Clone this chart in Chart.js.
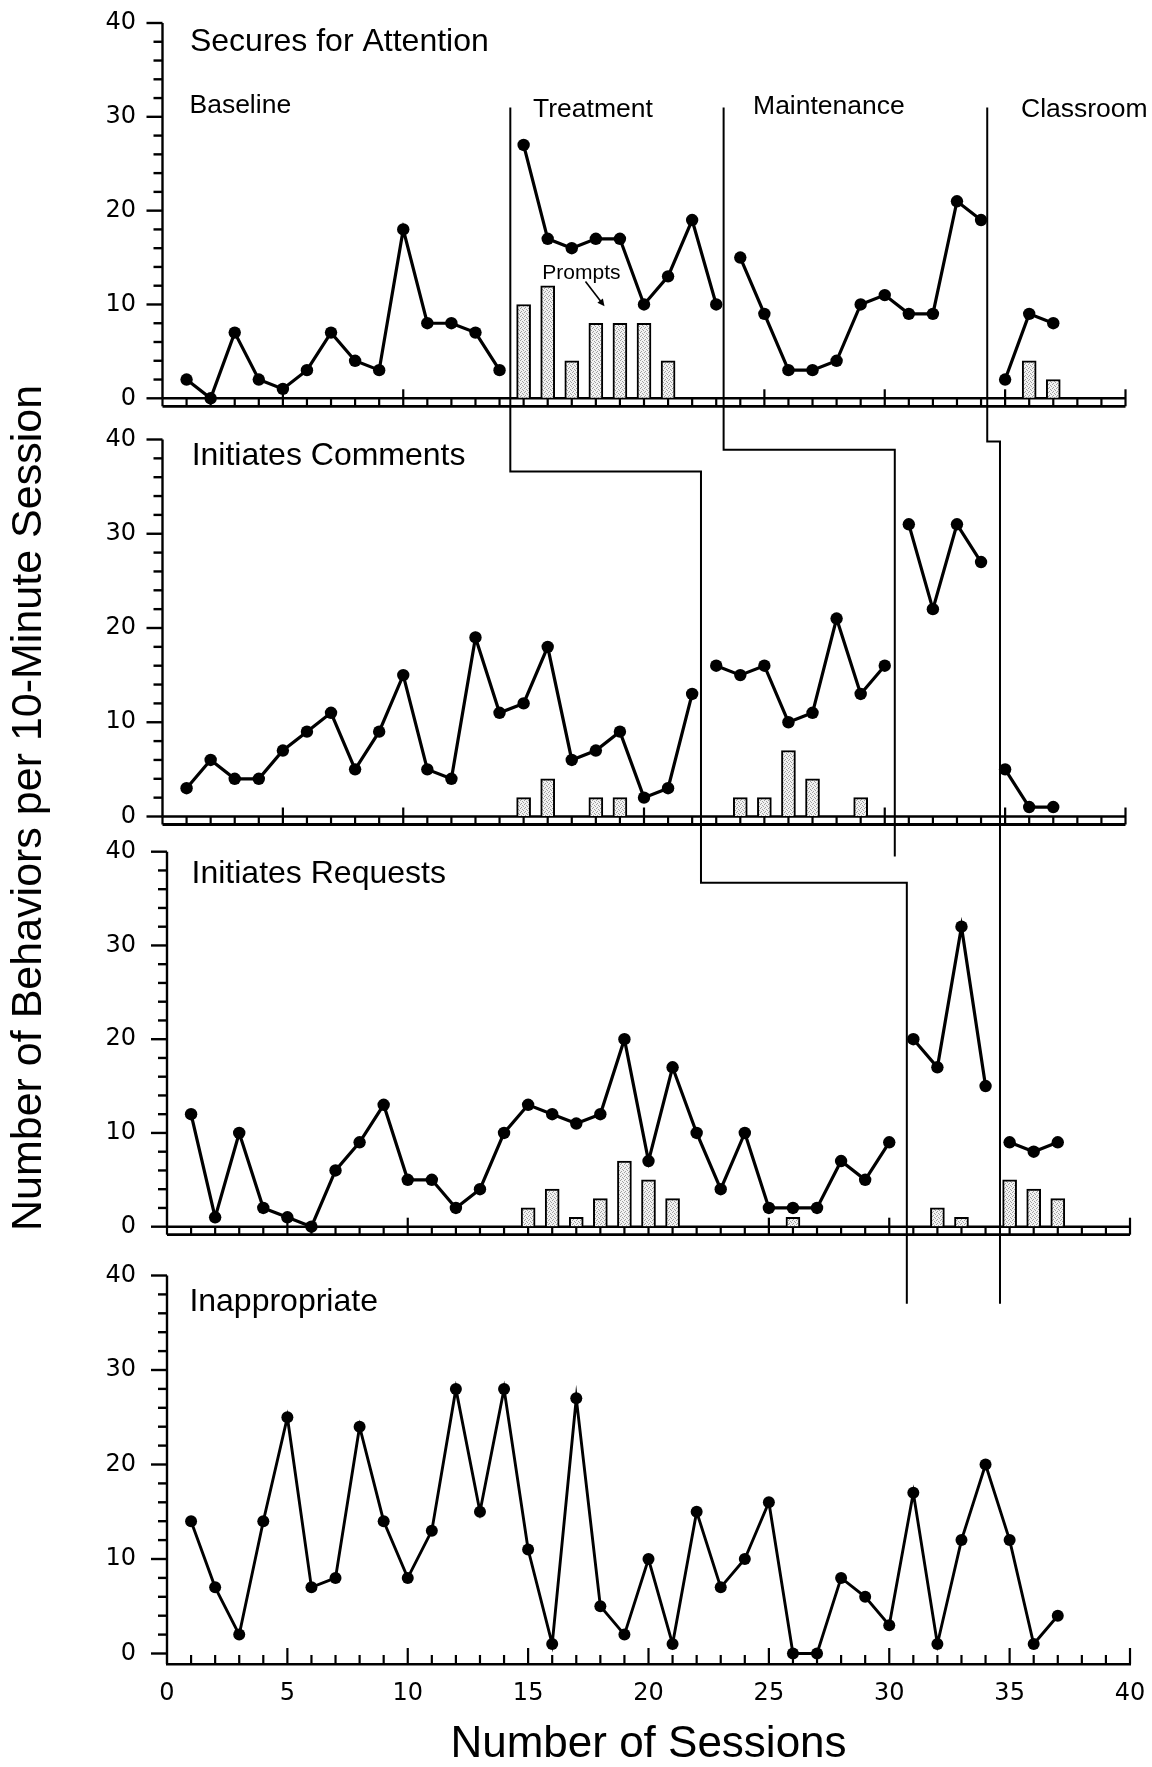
<!DOCTYPE html>
<html>
<head>
<meta charset="utf-8">
<title>Behaviors per session</title>
<script src="https://cdn.jsdelivr.net/npm/chart.js@4.4.1/dist/chart.umd.min.js"></script>
<style>
  html, body { margin: 0; padding: 0; background: #fff; }
  #chart { display: block; width: 1152px; height: 1767px; }
</style>
</head>
<body>
<canvas id="chart" width="1152" height="1767"></canvas>
<script>
// session numbers on the x axis
const sessions = [1, 2, 3, 4, 5, 6, 7, 8, 9, 10, 11, 12, 13, 14, 15, 16, 17, 18, 19, 20,
                  21, 22, 23, 24, 25, 26, 27, 28, 29, 30, 31, 32, 33, 34, 35, 36, 37];

// Secures for Attention
const attention = [2, 0, 7, 2, 1, 3, 7, 4, 3, 18, 8, 8, 7, 3,
                   27, 17, 16, 17, 17, 10, 13, 19, 10,
                   15, 9, 3, 3, 4, 10, 11, 9, 9, 21, 19,
                   2, 9, 8];
const attentionBreaks = [14, 23, 34];
const attentionPromptSessions = [15, 16, 17, 18, 19, 20, 21, 36, 37];
const attentionPrompts = [10, 12, 4, 8, 8, 8, 4, 4, 2];

// Initiates Comments
const comments = [3, 6, 4, 4, 7, 9, 11, 5, 9, 15, 5, 4, 19, 11, 12, 18, 6, 7, 9, 2, 3, 13,
                  16, 15, 16, 10, 11, 21, 13, 16,
                  31, 22, 31, 27,
                  5, 1, 1];
const commentsBreaks = [22, 30, 34];
const commentsPromptSessions = [15, 16, 18, 19, 24, 25, 26, 27, 29];
const commentsPrompts = [2, 4, 2, 2, 2, 2, 7, 4, 2];

// Initiates Requests
const requests = [12, 1, 10, 2, 1, 0, 6, 9, 13, 5, 5, 2, 4, 10, 13, 12, 11, 12, 20, 7, 17, 10,
                  4, 10, 2, 2, 2, 7, 5, 9,
                  20, 17, 32, 15,
                  9, 8, 9];
const requestsBreaks = [30, 34];
const requestsPromptSessions = [15, 16, 17, 18, 19, 20, 21, 26, 32, 33, 35, 36, 37];
const requestsPrompts = [2, 4, 1, 3, 7, 5, 3, 1, 2, 1, 5, 4, 3];

// Inappropriate
const inappropriate = [14, 7, 2, 14, 25, 7, 8, 24, 14, 8, 13, 28, 15, 28, 11, 1, 27, 5, 2, 10,
                       1, 15, 7, 10, 16, 0, 0, 8, 6, 3, 17, 1, 12, 20, 12, 1, 4];
const inappropriateBreaks = [];

const xTicks = [0, 5, 10, 15, 20, 25, 30, 35, 40];
const yTicks = [0, 10, 20, 30, 40];
const panelTitles = ['Secures for Attention', 'Initiates Comments', 'Initiates Requests', 'Inappropriate'];
const phaseNames = ['Baseline', 'Treatment', 'Maintenance', 'Classroom'];
const phaseNameAt = [[1.12, 31.15], [15.39, 30.8], [24.53, 31.05], [35.66, 30.8]];

// phase change lines: p = panel, x = session, y = value in that panel
const phaseLineA = [{p: 0, x: 14.26, y: 31}, {p: 1, x: 14.26, y: 36.6}, {p: 1, x: 22.18, y: 36.6},
                    {p: 2, x: 22.18, y: 36.7}, {p: 2, x: 30.73, y: 36.7}, {p: 3, x: 30.73, y: 37}];
const phaseLineB = [{p: 0, x: 23.12, y: 31}, {p: 1, x: 23.12, y: 38.9}, {p: 1, x: 30.23, y: 38.9},
                    {p: 2, x: 30.23, y: 39.5}];
const phaseLineC = [{p: 0, x: 34.07, y: 31}, {p: 1, x: 34.07, y: 39.8}, {p: 1, x: 34.6, y: 39.8},
                    {p: 3, x: 34.6, y: 37}];

const FONT = '"Liberation Sans", Arial, Helvetica, sans-serif';
const TICK_FONT = '"DejaVu Sans", Verdana, sans-serif';
Chart.defaults.font.family = FONT;
Chart.defaults.color = '#000';

const panels = [
  {y: 'y1', x: 'xTop', h: 397, min: -2.313, max: 40, values: attention, breaks: attentionBreaks,
   ps: attentionPromptSessions, pv: attentionPrompts, titleAt: [1.14, 38.0], lw: 3.2, dot: 6.2},
  {y: 'y2', x: 'xTop', h: 415, min: -1.963, max: 42.069, values: comments, breaks: commentsBreaks,
   ps: commentsPromptSessions, pv: commentsPrompts, titleAt: [1.21, 38.2], lw: 3.2, dot: 6.2},
  {y: 'y3', x: 'x', h: 417, min: -2.699, max: 41.781, values: requests, breaks: requestsBreaks,
   ps: requestsPromptSessions, pv: requestsPrompts, titleAt: [1.02, 37.6], lw: 3.2, dot: 6.2},
  {y: 'y4', x: 'x', h: 412, min: -1.111, max: 42.487, values: inappropriate, breaks: inappropriateBreaks,
   ps: [], pv: [], titleAt: [0.93, 37.15], lw: 2.9, dot: 6}
];

const canvas = document.getElementById('chart');
const ctx = canvas.getContext('2d');

function stipple() {
  const c = document.createElement('canvas');
  c.width = 4; c.height = 4;
  const g = c.getContext('2d');
  g.fillStyle = '#f2f2f2';
  g.fillRect(0, 0, 4, 4);
  g.fillStyle = '#a0a0a0';
  [[0, 0], [2, 1], [1, 3], [3, 2]].forEach(([a, b]) => g.fillRect(a, b, 1, 1));
  return ctx.createPattern(c, 'repeat');
}
const barFill = stipple();

function linePoints(values, breaks) {
  const pts = [];
  sessions.forEach((s, i) => {
    pts.push({x: s, y: values[i]});
    if (breaks.includes(s)) pts.push({x: s + 0.5, y: null});
  });
  return pts;
}

const datasets = [];
panels.forEach(p => {
  datasets.push({
    type: 'line', xAxisID: p.x, yAxisID: p.y, order: 0,
    data: linePoints(p.values, p.breaks),
    borderColor: '#000', borderWidth: p.lw, tension: 0, spanGaps: false, clip: false,
    pointRadius: p.dot, pointBackgroundColor: '#000', pointBorderColor: '#000', pointBorderWidth: 0
  });
  if (p.ps.length) {
    datasets.push({
      type: 'bar', xAxisID: p.x, yAxisID: p.y, order: 1, grouped: false,
      data: p.ps.map((s, i) => ({x: s, y: p.pv[i]})),
      barThickness: 14, backgroundColor: barFill, borderColor: '#000', borderWidth: 2,
      borderSkipped: 'bottom'
    });
  }
});

// tick marks themselves are drawn by the frame plugin; the transparent ones only space the labels
const hiddenTicks = len => ({display: true, drawOnChartArea: false, drawTicks: true,
                             tickLength: len, tickColor: 'rgba(0,0,0,0)'});

const scales = {
  x: {
    type: 'linear', position: 'bottom', min: 0, max: 40, offset: false,
    afterBuildTicks: s => { s.ticks = xTicks.map(v => ({value: v})); },
    ticks: {font: {size: 24, family: TICK_FONT}, color: '#000', padding: 0, maxRotation: 0},
    grid: hiddenTicks(15),
    border: {display: true, color: '#000', width: 2.5},
    title: {display: true, text: 'Number of Sessions', color: '#000',
            font: {size: 44, lineHeight: 1}, padding: {top: 0, bottom: 0}},
    afterFit: s => { s.height = 103; }
  },
  xTop: {type: 'linear', display: false, min: 0.187, max: 40.187, offset: false}
};
panels.forEach((p, i) => {
  scales[p.y] = {
    type: 'linear', position: 'left', stack: 'panels', stackWeight: p.h, weight: panels.length - i,
    min: p.min, max: p.max,
    afterBuildTicks: s => { s.ticks = yTicks.map(v => ({value: v})); },
    ticks: {font: {size: 24, family: TICK_FONT}, color: '#000', padding: 0},
    grid: hiddenTicks(31),
    border: {display: false},
    afterFit: s => { s.width = 167; }
  };
});

function seg(c, x1, y1, x2, y2) {
  c.beginPath();
  c.moveTo(x1, y1);
  c.lineTo(x2, y2);
  c.stroke();
}

const frame = {
  id: 'frame',
  beforeDatasetsDraw(chart) {
    const c = chart.ctx;
    c.save();
    c.strokeStyle = '#000';
    panels.forEach((p, i) => {
      const xs = chart.scales[p.x], ys = chart.scales[p.y];
      const x0 = xs.getPixelForValue(0), x40 = xs.getPixelForValue(40);
      const y0 = ys.getPixelForValue(0), y40 = ys.getPixelForValue(40);
      const last = i === panels.length - 1;
      const axisY = last ? chart.chartArea.bottom : y0;
      c.lineWidth = 2.4;
      seg(c, x0, y40, x0, axisY);
      for (let v = 0; v <= 40; v += 2) {
        const y = ys.getPixelForValue(v);
        seg(c, x0 - (v % 10 === 0 ? 16 : 9), y, x0, y);
      }
      c.lineWidth = 2.2;
      if (last) {
        for (let s = 1; s <= 40; s++) {
          const x = xs.getPixelForValue(s);
          seg(c, x, axisY, x, axisY - (s % 5 === 0 ? 16 : 9));
        }
      } else {
        const yb = y0 + 8;
        c.lineWidth = 2.4;
        seg(c, x0, y0, x40, y0);
        c.lineWidth = 2.8;
        seg(c, x0, yb, x40, yb);
        c.lineWidth = 2.2;
        for (let s = 0; s <= 40; s++) {
          const x = xs.getPixelForValue(s);
          seg(c, x, (s % 5 === 0 && s > 0) ? y0 - 9 : y0, x, yb);
        }
      }
    });
    const xb = chart.scales.x;
    c.lineWidth = 2;
    [phaseLineA, phaseLineB, phaseLineC].forEach(path => {
      c.beginPath();
      path.forEach((pt, k) => {
        const X = xb.getPixelForValue(pt.x);
        const Y = chart.scales[panels[pt.p].y].getPixelForValue(pt.y);
        if (k) c.lineTo(X, Y); else c.moveTo(X, Y);
      });
      c.stroke();
    });
    c.restore();
  },
  afterDatasetsDraw(chart) {
    const c = chart.ctx;
    c.save();
    c.fillStyle = '#000';
    c.strokeStyle = '#000';
    c.textBaseline = 'middle';
    c.textAlign = 'left';
    c.font = '32px ' + FONT;
    panels.forEach((p, i) => {
      const xs = chart.scales[p.x], ys = chart.scales[p.y];
      c.fillText(panelTitles[i], xs.getPixelForValue(p.titleAt[0]), ys.getPixelForValue(p.titleAt[1]));
    });
    const xt = chart.scales.xTop, y1 = chart.scales.y1;
    c.font = '26.5px ' + FONT;
    phaseNames.forEach((n, i) => {
      c.fillText(n, xt.getPixelForValue(phaseNameAt[i][0]), y1.getPixelForValue(phaseNameAt[i][1]));
    });
    // Prompts label with arrow
    c.font = '21px ' + FONT;
    c.textAlign = 'center';
    c.fillText('Prompts', xt.getPixelForValue(17.4), y1.getPixelForValue(13.3));
    const ax1 = xt.getPixelForValue(17.57), ay1 = y1.getPixelForValue(12.45);
    const ax2 = xt.getPixelForValue(18.36), ay2 = y1.getPixelForValue(9.8);
    const ang = Math.atan2(ay2 - ay1, ax2 - ax1);
    c.lineWidth = 1.6;
    seg(c, ax1, ay1, ax2 - 6 * Math.cos(ang), ay2 - 6 * Math.sin(ang));
    c.beginPath();
    c.moveTo(ax2, ay2);
    c.lineTo(ax2 - 8 * Math.cos(ang - 0.45), ay2 - 8 * Math.sin(ang - 0.45));
    c.lineTo(ax2 - 8 * Math.cos(ang + 0.45), ay2 - 8 * Math.sin(ang + 0.45));
    c.closePath();
    c.fill();
    // y axis title
    c.translate(29, 808);
    c.rotate(-Math.PI / 2);
    c.textAlign = 'center';
    c.font = '43px ' + FONT;
    c.fillText('Number of Behaviors per 10-Minute Session', 0, 0);
    c.restore();
  }
};

new Chart(ctx, {
  data: {datasets: datasets},
  options: {
    responsive: false,
    devicePixelRatio: 1,
    animation: false,
    events: [],
    layout: {padding: {top: 23, right: 22, bottom: 0, left: 0}},
    plugins: {legend: {display: false}, tooltip: {enabled: false}},
    scales: scales
  },
  plugins: [frame]
});
</script>
</body>
</html>
